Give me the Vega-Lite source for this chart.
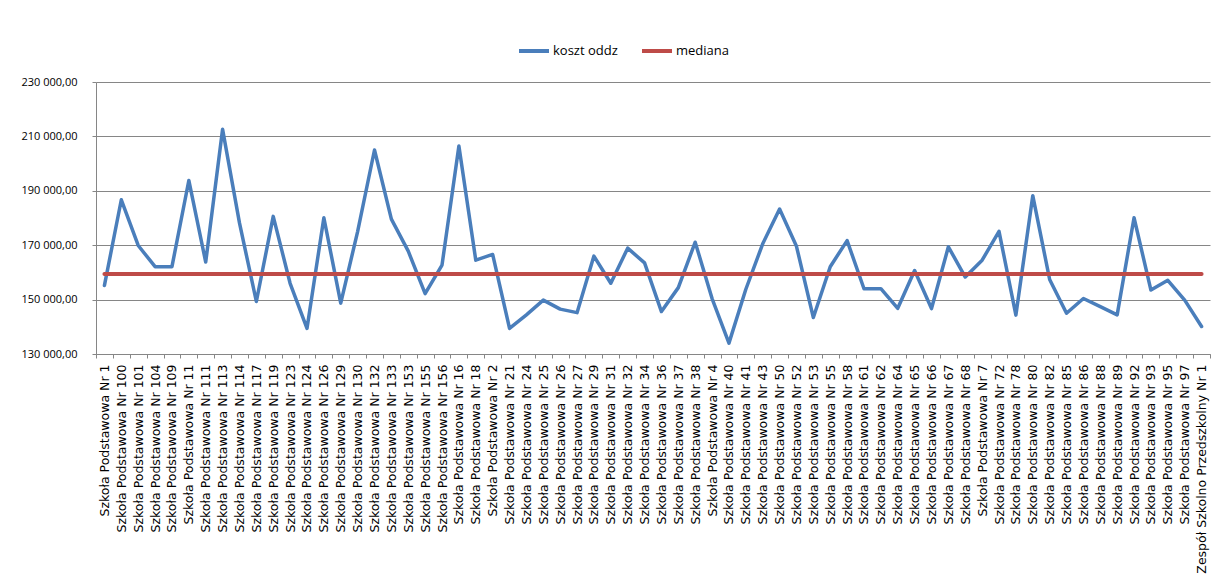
{
  "$schema": "https://vega.github.io/schema/vega-lite/v6.json",
  "width": 1114,
  "height": 272,
  "autosize": {"type": "none"},
  "padding": {"left": 96, "top": 82, "right": 6, "bottom": 234},
  "background": "white",
  "config": {"view": {"stroke": null}, "font": "Open Sans"},
  "data": {
    "values": [
      {"szkola": "Szkoła Podstawowa Nr 1", "koszt": 155200, "mediana": 159400},
      {"szkola": "Szkoła Podstawowa Nr 100", "koszt": 186700, "mediana": 159400},
      {"szkola": "Szkoła Podstawowa Nr 101", "koszt": 169900, "mediana": 159400},
      {"szkola": "Szkoła Podstawowa Nr 104", "koszt": 162100, "mediana": 159400},
      {"szkola": "Szkoła Podstawowa Nr 109", "koszt": 162100, "mediana": 159400},
      {"szkola": "Szkoła Podstawowa Nr 11", "koszt": 193800, "mediana": 159400},
      {"szkola": "Szkoła Podstawowa Nr 111", "koszt": 163800, "mediana": 159400},
      {"szkola": "Szkoła Podstawowa Nr 113", "koszt": 212600, "mediana": 159400},
      {"szkola": "Szkoła Podstawowa Nr 114", "koszt": 178200, "mediana": 159400},
      {"szkola": "Szkoła Podstawowa Nr 117", "koszt": 149300, "mediana": 159400},
      {"szkola": "Szkoła Podstawowa Nr 119", "koszt": 180600, "mediana": 159400},
      {"szkola": "Szkoła Podstawowa Nr 123", "koszt": 156000, "mediana": 159400},
      {"szkola": "Szkoła Podstawowa Nr 124", "koszt": 139400, "mediana": 159400},
      {"szkola": "Szkoła Podstawowa Nr 126", "koszt": 180100, "mediana": 159400},
      {"szkola": "Szkoła Podstawowa Nr 129", "koszt": 148700, "mediana": 159400},
      {"szkola": "Szkoła Podstawowa Nr 130", "koszt": 175000, "mediana": 159400},
      {"szkola": "Szkoła Podstawowa Nr 132", "koszt": 205000, "mediana": 159400},
      {"szkola": "Szkoła Podstawowa Nr 133", "koszt": 179600, "mediana": 159400},
      {"szkola": "Szkoła Podstawowa Nr 153", "koszt": 167800, "mediana": 159400},
      {"szkola": "Szkoła Podstawowa Nr 155", "koszt": 152200, "mediana": 159400},
      {"szkola": "Szkoła Podstawowa Nr 156", "koszt": 162700, "mediana": 159400},
      {"szkola": "Szkoła Podstawowa Nr 16", "koszt": 206500, "mediana": 159400},
      {"szkola": "Szkoła Podstawowa Nr 18", "koszt": 164500, "mediana": 159400},
      {"szkola": "Szkoła Podstawowa Nr 2", "koszt": 166600, "mediana": 159400},
      {"szkola": "Szkoła Podstawowa Nr 21", "koszt": 139400, "mediana": 159400},
      {"szkola": "Szkoła Podstawowa Nr 24", "koszt": 144400, "mediana": 159400},
      {"szkola": "Szkoła Podstawowa Nr 25", "koszt": 149800, "mediana": 159400},
      {"szkola": "Szkoła Podstawowa Nr 26", "koszt": 146500, "mediana": 159400},
      {"szkola": "Szkoła Podstawowa Nr 27", "koszt": 145200, "mediana": 159400},
      {"szkola": "Szkoła Podstawowa Nr 29", "koszt": 166000, "mediana": 159400},
      {"szkola": "Szkoła Podstawowa Nr 31", "koszt": 156000, "mediana": 159400},
      {"szkola": "Szkoła Podstawowa Nr 32", "koszt": 168900, "mediana": 159400},
      {"szkola": "Szkoła Podstawowa Nr 34", "koszt": 163500, "mediana": 159400},
      {"szkola": "Szkoła Podstawowa Nr 36", "koszt": 145600, "mediana": 159400},
      {"szkola": "Szkoła Podstawowa Nr 37", "koszt": 154400, "mediana": 159400},
      {"szkola": "Szkoła Podstawowa Nr 38", "koszt": 171100, "mediana": 159400},
      {"szkola": "Szkoła Podstawowa Nr 4", "koszt": 150400, "mediana": 159400},
      {"szkola": "Szkoła Podstawowa Nr 40", "koszt": 134000, "mediana": 159400},
      {"szkola": "Szkoła Podstawowa Nr 41", "koszt": 153800, "mediana": 159400},
      {"szkola": "Szkoła Podstawowa Nr 43", "koszt": 170500, "mediana": 159400},
      {"szkola": "Szkoła Podstawowa Nr 50", "koszt": 183300, "mediana": 159400},
      {"szkola": "Szkoła Podstawowa Nr 52", "koszt": 169600, "mediana": 159400},
      {"szkola": "Szkoła Podstawowa Nr 53", "koszt": 143400, "mediana": 159400},
      {"szkola": "Szkoła Podstawowa Nr 55", "koszt": 162100, "mediana": 159400},
      {"szkola": "Szkoła Podstawowa Nr 58", "koszt": 171700, "mediana": 159400},
      {"szkola": "Szkoła Podstawowa Nr 61", "koszt": 154000, "mediana": 159400},
      {"szkola": "Szkoła Podstawowa Nr 62", "koszt": 154000, "mediana": 159400},
      {"szkola": "Szkoła Podstawowa Nr 64", "koszt": 146800, "mediana": 159400},
      {"szkola": "Szkoła Podstawowa Nr 65", "koszt": 160700, "mediana": 159400},
      {"szkola": "Szkoła Podstawowa Nr 66", "koszt": 146700, "mediana": 159400},
      {"szkola": "Szkoła Podstawowa Nr 67", "koszt": 169400, "mediana": 159400},
      {"szkola": "Szkoła Podstawowa Nr 68", "koszt": 158300, "mediana": 159400},
      {"szkola": "Szkoła Podstawowa Nr 7", "koszt": 164500, "mediana": 159400},
      {"szkola": "Szkoła Podstawowa Nr 72", "koszt": 175100, "mediana": 159400},
      {"szkola": "Szkoła Podstawowa Nr 78", "koszt": 144300, "mediana": 159400},
      {"szkola": "Szkoła Podstawowa Nr 80", "koszt": 188200, "mediana": 159400},
      {"szkola": "Szkoła Podstawowa Nr 82", "koszt": 157400, "mediana": 159400},
      {"szkola": "Szkoła Podstawowa Nr 85", "koszt": 145000, "mediana": 159400},
      {"szkola": "Szkoła Podstawowa Nr 86", "koszt": 150400, "mediana": 159400},
      {"szkola": "Szkoła Podstawowa Nr 88", "koszt": 147400, "mediana": 159400},
      {"szkola": "Szkoła Podstawowa Nr 89", "koszt": 144400, "mediana": 159400},
      {"szkola": "Szkoła Podstawowa Nr 92", "koszt": 180100, "mediana": 159400},
      {"szkola": "Szkoła Podstawowa Nr 93", "koszt": 153500, "mediana": 159400},
      {"szkola": "Szkoła Podstawowa Nr 95", "koszt": 157100, "mediana": 159400},
      {"szkola": "Szkoła Podstawowa Nr 97", "koszt": 149800, "mediana": 159400},
      {"szkola": "Zespół Szkolno Przedszkolny Nr 1", "koszt": 140100, "mediana": 159400}
    ]
  },
  "encoding": {
    "x": {
      "field": "szkola",
      "type": "nominal",
      "sort": null,
      "bandPosition": 0.5,
      "scale": {"type": "band", "paddingInner": 0, "paddingOuter": 0},
      "axis": {
        "title": null,
        "tickBand": "extent",
        "labelAngle": -90,
        "labelAlign": "right",
        "labelBaseline": "middle",
        "labelFont": "DejaVu Sans",
        "labelFontSize": 12.5,
        "labelColor": "#000000",
        "labelPadding": 6,
        "labelOverlap": false,
        "labelLimit": 400,
        "tickSize": 4,
        "tickColor": "#868686",
        "domainColor": "#868686",
        "grid": false
      }
    }
  },
  "layer": [
    {
      "mark": {"type": "line", "strokeWidth": 3.5, "strokeJoin": "round", "strokeCap": "round"},
      "encoding": {
        "y": {
          "field": "koszt",
          "type": "quantitative",
          "scale": {"domain": [130000, 230000], "nice": false, "zero": false},
          "axis": {
            "title": null,
            "values": [130000, 150000, 170000, 190000, 210000, 230000],
            "labelExpr": "replace(replace(format(datum.value, ',.2f'), ',', ' '), '.', ',')",
            "labelFont": "Open Sans",
            "labelFontSize": 11,
            "labelColor": "#000000",
            "labelPadding": 15,
            "tickSize": 4,
            "tickColor": "#868686",
            "domainColor": "#868686",
            "gridColor": "#868686",
            "gridWidth": 1
          }
        },
        "color": {
          "datum": "koszt oddz",
          "type": "nominal",
          "scale": {"domain": ["koszt oddz", "mediana"], "range": ["#4A7EBB", "#BE4B48"]},
          "legend": {
            "title": null,
            "orient": "none",
            "direction": "horizontal",
            "legendX": 421,
            "legendY": -48,
            "symbolType": "stroke",
            "symbolSize": 900,
            "symbolStrokeWidth": 4,
            "labelFont": "Open Sans",
            "labelFontSize": 13,
            "labelColor": "#000000",
            "labelOffset": 2,
            "columnPadding": 16
          }
        }
      }
    },
    {
      "mark": {"type": "line", "strokeWidth": 4, "strokeCap": "round"},
      "encoding": {
        "y": {"field": "mediana", "type": "quantitative"},
        "color": {"datum": "mediana", "type": "nominal"}
      }
    }
  ]
}
